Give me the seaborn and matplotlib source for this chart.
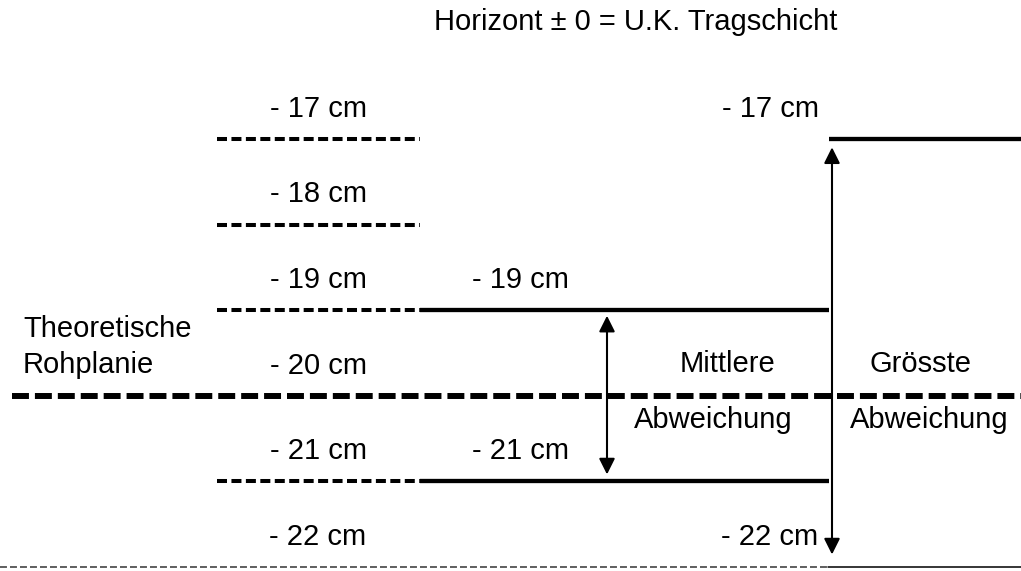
# Abweichung der Rohplanie - Schema
import pandas as pd
import matplotlib.pyplot as plt
import seaborn as sns

# ---- data ----
levels = [-17, -18, -19, -20, -21, -22]              # cm, Horizonte links
level_labels = ["- 17 cm", "- 18 cm", "- 19 cm", "- 20 cm", "- 21 cm", "- 22 cm"]
theoretical = -20                                     # theoretische Rohplanie
mean_dev = [-19, -21]                                 # mittlere Abweichung
mean_labels = ["- 19 cm", "- 21 cm"]
max_dev = [-17, -22]                                  # groesste Abweichung
max_labels = ["- 17 cm", "- 22 cm"]

sns.set_theme(style="white")
plt.rcParams["font.family"] = ["Liberation Sans", "DejaVu Sans"]
plt.rcParams["text.color"] = "black"
plt.rcParams["lines.scale_dashes"] = False

fig = plt.figure(figsize=(10.21, 5.71), dpi=100)
ax = fig.add_axes([0, 0, 1, 1])
ax.set_xlim(0, 1021)
ax.set_ylim(-22.047, -15.376)
ax.axis("off")

fs = 21

def lab_y(lv):
    # text baseline a bit above its horizon line
    return lv + 0.26

# left short dashed horizons (not the theoretical one, not the bottom one)
for lv, txt in zip(levels, level_labels):
    ax.text(318, lab_y(lv), txt, fontsize=fs, ha="center", va="baseline")
    if lv in (theoretical, levels[-1]):
        continue
    ax.plot([217, 420], [lv, lv], color="black", lw=2.9, dashes=(7.2, 3.2),
            solid_capstyle="butt", dash_capstyle="butt")

# theoretical planum: thick dashed line over the full width
ax.plot([12, 1021], [theoretical, theoretical], color="black", lw=4.3,
        dashes=(12.2, 4.3), dash_capstyle="butt")

# bottom line: thin dashed, then thin solid
ax.plot([0, 828], [levels[-1], levels[-1]], color="#333333", lw=1.1,
        dashes=(5, 2.2), dash_capstyle="butt")
ax.plot([828, 1021], [levels[-1], levels[-1]], color="black", lw=1.1)

# solid lines for mean and max deviation
seg = pd.DataFrame({
    "x": [420, 829, 420, 829, 829, 1021],
    "y": [mean_dev[0], mean_dev[0], mean_dev[1], mean_dev[1], max_dev[0], max_dev[0]],
    "seg": ["a", "a", "b", "b", "c", "c"],
})
sns.lineplot(data=seg, x="x", y="y", units="seg", estimator=None, color="black",
             lw=3.1, ax=ax, legend=False, solid_capstyle="butt")

for lv, txt in zip(mean_dev, mean_labels):
    ax.text(520, lab_y(lv), txt, fontsize=fs, ha="center", va="baseline")
for lv, txt in zip(max_dev, max_labels):
    ax.text(770, lab_y(lv), txt, fontsize=fs, ha="center", va="baseline")

# arrows
ax.annotate("", xy=(607, mean_dev[0]), xytext=(607, mean_dev[1]),
            arrowprops=dict(arrowstyle="<|-|>", color="black", lw=1.5,
                            mutation_scale=24, shrinkA=5, shrinkB=4))
ax.annotate("", xy=(832, max_dev[0]), xytext=(832, max_dev[1]),
            arrowprops=dict(arrowstyle="<|-|>", color="black", lw=1.5,
                            mutation_scale=24, shrinkA=9, shrinkB=6))

# texts
ax.text(636, -15.633, "Horizont \u00b1 0 = U.K. Tragschicht", fontsize=fs,
        ha="center", va="center")
ax.text(23, -19.313, "Theoretische", fontsize=fs, ha="left", va="baseline")
ax.text(23, -19.734, "Rohplanie", fontsize=fs, ha="left", va="baseline")
ax.text(727, -19.722, "Mittlere", fontsize=fs, ha="center", va="baseline")
ax.text(713, -20.376, "Abweichung", fontsize=fs, ha="center", va="baseline")
ax.text(920, -19.722, "Grösste", fontsize=fs, ha="center", va="baseline")
ax.text(929, -20.376, "Abweichung", fontsize=fs, ha="center", va="baseline")

fig.savefig("out.png", dpi=100)
